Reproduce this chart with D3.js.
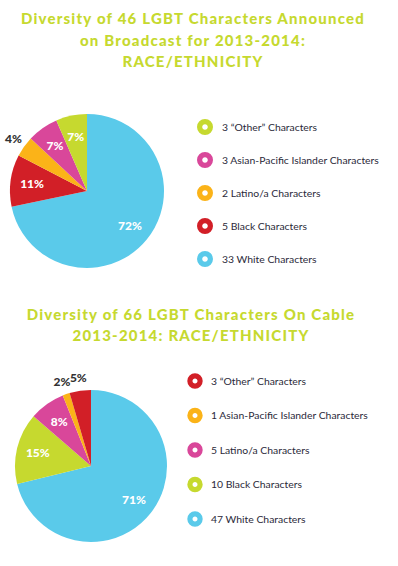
<!DOCTYPE html>
<html>
<head>
<meta charset="utf-8">
<script src="https://cdn.jsdelivr.net/npm/d3@7"></script>
<style>
  body { margin: 0; background: #fff; }
  svg { display: block; }
</style>
</head>
<body>
<div id="renderer"></div>
<script>
// data
var categories = ['Other', 'Asian-Pacific Islander', 'Latino/a', 'Black', 'White'];
var broadcastCounts = [3, 3, 2, 5, 33];
var cableCounts = [3, 1, 5, 10, 47];
var broadcastTitle = ['Diversity of 46 LGBT Characters Announced', 'on Broadcast for 2013-2014:', 'RACE/ETHNICITY'];
var cableTitle = ['Diversity of 66 LGBT Characters On Cable', '2013-2014: RACE/ETHNICITY'];

var green = '#c6d92f', pink = '#d9479a', orange = '#fbb318', red = '#d21f27', blue = '#5acaea';
var broadcastColors = [green, pink, orange, red, blue];
var cableColors = [red, orange, pink, green, blue];

var svg = d3.select('#renderer').append('svg')
  .attr('width', 398)
  .attr('height', 566);

function drawTitle(lines, x, y0, gap) {
  var t = svg.append('g');
  lines.forEach(function (line, i) {
    t.append('text')
      .attr('x', x)
      .attr('y', y0 + i * gap)
      .attr('text-anchor', 'middle')
      .style('font', '900 15px Lato')
      .style('letter-spacing', '1.2px')
      .attr('fill', green)
      .text(line);
  });
}

function legendText(count, cat) {
  var name = cat === 'Other' ? '\u201cOther\u201d' : cat;
  return count + ' ' + name + ' Characters';
}

function drawPie(counts, colors, cx, cy, r) {
  var g = svg.append('g').attr('transform', 'translate(' + cx + ',' + cy + ')');
  var total = d3.sum(counts);
  // clockwise from 12 o'clock: White, Black, Latino/a, Asian, Other
  var rows = counts.map(function (c, i) {
    return { cat: categories[i], count: c, color: colors[i] };
  }).reverse();

  var pie = d3.pie().sort(null).value(function (d) { return d.count; });
  var arc = d3.arc().innerRadius(0).outerRadius(r);
  var arcs = pie(rows);

  g.selectAll('path.slice')
    .data(arcs)
    .enter()
    .append('path')
    .attr('class', 'slice')
    .attr('d', arc)
    .attr('fill', function (d) { return d.data.color; });

  g.selectAll('text.pct')
    .data(arcs)
    .enter()
    .append('text')
    .attr('class', 'pct')
    .attr('transform', function (d) {
      var pct = d.data.count / total * 100;
      var rr = pct < 6 ? r * 1.17 : r * 0.72;
      var a = (d.startAngle + d.endAngle) / 2;
      return 'translate(' + (Math.sin(a) * rr) + ',' + (-Math.cos(a) * rr) + ')';
    })
    .attr('text-anchor', 'middle')
    .attr('dy', '0.35em')
    .style('font', '900 12px Lato')
    .attr('fill', function (d) {
      return d.data.count / total * 100 < 6 ? '#333333' : '#ffffff';
    })
    .text(function (d) { return Math.round(d.data.count / total * 100) + '%'; });
}

function drawLegend(counts, colors, x, y0, gap, cr, textX) {
  var g = svg.append('g');
  var items = g.selectAll('g.item')
    .data(counts)
    .enter()
    .append('g')
    .attr('class', 'item')
    .attr('transform', function (d, i) { return 'translate(' + x + ',' + (y0 + i * gap) + ')'; });

  items.append('circle')
    .attr('r', cr - 2.6)
    .attr('fill', '#fff')
    .attr('stroke', function (d, i) { return colors[i]; })
    .attr('stroke-width', 5.2);

  items.append('text')
    .attr('x', textX)
    .attr('dy', '0.35em')
    .style('font', '400 10.4px Lato')
    .attr('fill', '#2b2a3a')
    .text(function (d, i) { return legendText(d, categories[i]); });
}

drawTitle(broadcastTitle, 193, 24, 21.5);
drawPie(broadcastCounts, broadcastColors, 87, 191, 77);
drawLegend(broadcastCounts, broadcastColors, 205, 127, 33, 8, 17);

drawTitle(cableTitle, 191, 320, 20.5);
drawPie(cableCounts, cableColors, 91, 466, 76);
drawLegend(cableCounts, cableColors, 195, 381, 34.5, 7.7, 16);
</script>
</body>
</html>
